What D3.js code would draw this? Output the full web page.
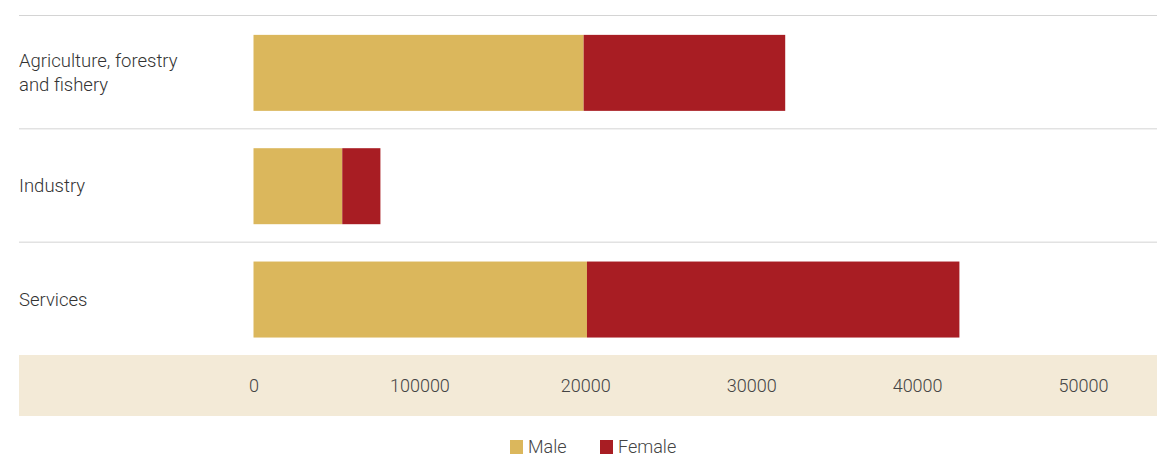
<!DOCTYPE html>
<html><head><meta charset="utf-8">
<script src="https://cdn.jsdelivr.net/npm/d3@7"></script>
<style>body{margin:0;background:#fff;font-family:Roboto,sans-serif;}</style>
</head><body>
<svg id="c" width="1157" height="459"></svg>
<script>
const categories = [["Agriculture, forestry","and fishery"],["Industry"],["Services"]];
const categoryKeys = ["Agriculture, forestry and fishery","Industry","Services"];
const male = [19900, 5350, 20100];
const female = [12150, 2300, 22450];
const tickValues = [0, 10000, 20000, 30000, 40000, 50000];
const tickLabels = ["0", "100000", "20000", "30000", "40000", "50000"];
const seriesNames = ["Male", "Female"];
const colors = ["#dbb75c", "#a81d23"];

const svg = d3.select("#c");
const x = d3.scaleLinear().domain([0, 50000]).range([253.5, 1083]);
const y = d3.scaleBand().domain(categoryKeys).range([15, 355]).paddingInner(0).paddingOuter(0);
const bh = 76;

svg.selectAll("line.sep").data(categoryKeys).enter().append("line")
  .attr("x1", 19).attr("x2", 1157)
  .attr("y1", d => y(d) + 0.5).attr("y2", d => y(d) + 0.5)
  .attr("stroke", "#d4d4d4").attr("stroke-width", 1);

svg.append("rect").attr("x", 19).attr("y", 355).attr("width", 1138).attr("height", 61).attr("fill", "#f3ead7");

const data = categoryKeys.map((k, i) => ({k, m: male[i], f: female[i]}));
const stack = d3.stack().keys(["m", "f"])(data);
svg.selectAll("g.s").data(stack).enter().append("g").attr("fill", (d, i) => colors[i])
  .selectAll("rect").data(d => d).enter().append("rect")
  .attr("x", d => x(d[0])).attr("width", d => x(d[1]) - x(d[0]))
  .attr("y", d => y(d.data.k) + (y.bandwidth() - bh) / 2 + 1.2).attr("height", bh);

categoryKeys.forEach((k, i) => {
  const lines = categories[i];
  const cy = y(k) + y.bandwidth() / 2 + 1;
  const t = svg.append("text").attr("x", 19).attr("fill", "#333").attr("font-size", 18.5).attr("font-weight", 300);
  lines.forEach((l, j) => {
    t.append("tspan").attr("x", 19)
      .attr("y", cy + (j - (lines.length - 1) / 2) * 24)
      .attr("dy", "0.35em").text(l);
  });
});

const axis = d3.axisBottom(x).tickValues(tickValues).tickFormat((d, i) => tickLabels[i]).tickSize(0);
const ag = svg.append("g").attr("transform", "translate(0,376)").call(axis);
ag.select(".domain").remove();
ag.selectAll("text").attr("font-size", 18).attr("font-weight", 300).attr("fill", "#444").attr("font-family", "Roboto,sans-serif");

const leg = svg.append("g");
const lx = [510, 600];
seriesNames.forEach((n, i) => {
  leg.append("rect").attr("x", lx[i]).attr("y", 440).attr("width", 13).attr("height", 14).attr("fill", colors[i]);
  leg.append("text").attr("x", lx[i] + 18).attr("y", 447).attr("dy", "0.35em")
    .attr("font-size", 18).attr("font-weight", 300).attr("fill", "#444").text(n);
});
</script>
</body></html>
